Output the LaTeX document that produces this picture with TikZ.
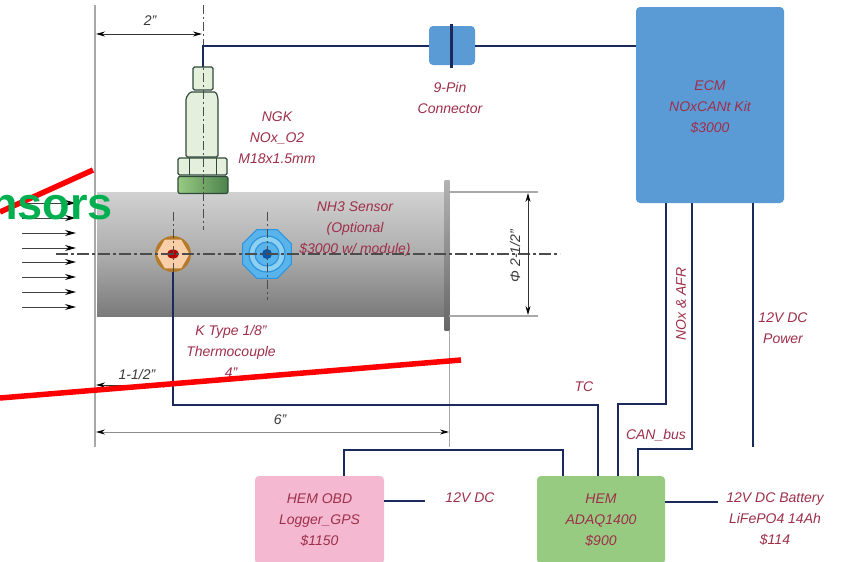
\documentclass[tikz,border=0pt]{standalone}
\usepackage{fontspec}
\setmainfont{Liberation Sans}
\usetikzlibrary{shapes.geometric,arrows.meta}
\definecolor{lbl}{HTML}{9E2F4A}
\definecolor{wire}{HTML}{1B2A5C}
\definecolor{dimc}{HTML}{3A3A3A}
\definecolor{grayl}{HTML}{A8A8A8}
\definecolor{ecmblue}{HTML}{5B9BD5}
\definecolor{obdpink}{HTML}{F4B9D0}
\definecolor{hemgreen}{HTML}{98CB82}
\definecolor{sensfill}{HTML}{E4EFDC}
\definecolor{sensline}{HTML}{2F4A3A}
\definecolor{greentxt}{HTML}{00B050}
\definecolor{tcring}{HTML}{B47A28}
\definecolor{tcfill}{HTML}{F8CFA8}
\definecolor{nhouter}{HTML}{58B4EA}
\definecolor{nhinner}{HTML}{8ED0F2}
\definecolor{nhring}{HTML}{2F94DC}
\definecolor{nhcore}{HTML}{0B55A5}
\tikzset{
  x=1pt,y=-1pt,
  lab/.style={font=\fontsize{14}{21}\selectfont\itshape,text=lbl,align=center,inner sep=0pt},
  dimlab/.style={font=\fontsize{14}{18}\selectfont\itshape,text=dimc,inner sep=0pt},
  box/.style={rounded corners=4pt,inner sep=0pt,minimum height=#1},
  wirel/.style={draw=wire,line width=2.4pt,line join=miter},
  ext/.style={draw=grayl,line width=1.5pt},
  dimline/.style={draw=black!80,line width=1pt,{Stealth[length=9pt,width=5pt,color=black]}-{Stealth[length=9pt,width=5pt,color=black]}},
  flow/.style={draw=black!75,line width=1pt,-{Stealth[length=11pt,width=6pt,color=black]}},
  centre/.style={draw=black!70,line width=1.2pt,dash pattern=on 12pt off 3pt on 3pt off 3pt},
  centret/.style={draw=black!70,line width=.9pt,dash pattern=on 9pt off 3pt on 2pt off 3pt},
  sens/.style={draw=sensline,fill=sensfill,line width=1.2pt,rounded corners=1.5pt},
  redbar/.style={draw=red,line width=5.5pt},
}
\begin{document}
\begin{tikzpicture}
\useasboundingbox[fill=white] (0,0) rectangle (846,562);
% named x positions
\coordinate (xa) at (666,0);\coordinate (xb) at (692,0);\coordinate (xc) at (753,0);
\coordinate (xd) at (618,0);\coordinate (xe) at (638,0);\coordinate (xf) at (598,0);\coordinate (xg) at (563,0);
\coordinate (ya) at (0,404);\coordinate (yb) at (0,449);
% extension lines
\coordinate (ll1) at (95,5);\coordinate (ll2) at (95,447);
\draw[ext] (ll1) -- (ll2);
% pipe
\node[minimum width=348pt,minimum height=124pt,inner sep=0pt,top color=black!18,bottom color=black!52,middle color=black!32] (pipe) at (271,254) {};
\node[minimum width=5pt,minimum height=150pt,inner sep=0pt,top color=black!30,bottom color=black!60] (flange) at (447,255) {};
\coordinate (re1) at (449,330);\coordinate (re2) at (449,447);
\draw[draw=grayl,line width=1pt] (re1) -- (re2);
\coordinate (e1a) at (449,192);\coordinate (e1b) at (538,192);
\coordinate (e2a) at (449,316);\coordinate (e2b) at (538,316);
\draw[ext] (e1a) -- (e1b);\draw[ext] (e2a) -- (e2b);
% sensor
\draw[sens] (193,90) -- (193,67) -- (213,67) -- (213,90) -- cycle;
\draw[sens] (186,157) -- (186,98) -- (190,92) -- (216,92) -- (218,98) -- (218,157) -- cycle;
\draw[sens] (178,175) -- (178,158) -- (227,158) -- (227,175) -- cycle;
\draw[draw=sensline,line width=1pt] (189,158) -- (189,175) (216,158) -- (216,175);
\node[rounded corners=2pt,minimum width=50pt,minimum height=17pt,inner sep=0pt,draw=sensline,line width=1.2pt,left color=hemgreen,right color=green!30!black!70!white] (base) at (203,185) {};
\coordinate (c1) at (203,5);\coordinate (c2) at (203,230);
\draw[centret] (c1) -- (c2);
% holes
\node[circle,minimum size=36pt,inner sep=0pt,fill=tcring] (tc) at (173,254) {};
\node[regular polygon,regular polygon sides=6,minimum size=33pt,inner sep=0pt,fill=tcfill] (tch) at (173,254) {};
\node[ellipse,minimum width=12pt,minimum height=9pt,inner sep=0pt,fill=red!70!black] (tcc) at (173,254) {};
\node[regular polygon,regular polygon sides=8,minimum size=53pt,inner sep=0pt,fill=nhouter,draw=nhring,line width=1pt] (nh) at (267,254) {};
\node[circle,minimum size=36pt,inner sep=0pt,fill=nhinner,draw=nhring,line width=1.2pt] (nhr1) at (267,254) {};
\node[circle,minimum size=24pt,inner sep=0pt,fill=nhouter,draw=nhring,line width=1.2pt] (nhr2) at (267,254) {};
\node[circle,minimum size=10pt,inner sep=0pt,fill=nhcore] (nhc) at (267,254) {};
\coordinate (t1) at (173,212);\coordinate (t2) at (173,275);
\coordinate (n1) at (267,212);\coordinate (n2) at (267,300);
\draw[centret] (t1) -- (t2);\draw[centret] (n1) -- (n2);
\coordinate (m1) at (56,254);\coordinate (m2) at (560,254);
\draw[centre] (m1) -- (m2);
% flow arrows
\foreach \i/\y in {1/203,2/218,3/233,4/248,5/262,6/277,7/292,8/307}{
  \coordinate (fa\i) at (22,\y);\coordinate (fb\i) at (76,\y);
  \draw[flow] (fa\i) -- (fb\i);
}
% boxes
\node[box=196pt,minimum width=148pt,fill=ecmblue,lab] (ecm) at (710,105) {};
\node[lab] (ecmt) at (710,107) {ECM\\NOxCANt Kit\\\$3000};
\node[box=88pt,minimum width=129pt,fill=obdpink,lab] (obd) at (319.5,520) {HEM OBD\\Logger\_GPS\\\$1150};
\node[box=88pt,minimum width=128pt,fill=hemgreen,lab] (hem) at (601,520) {HEM\\ADAQ1400\\\$900};
\node[minimum width=46pt,minimum height=39pt,inner sep=0pt,rounded corners=4pt,fill=ecmblue] (conn) at (452,45.5) {};
\coordinate (cb1) at (451,24);\coordinate (cb2) at (451,68);
% wires
\coordinate (sw) at (203,46);
\draw[wirel] (203,67) -- (sw) -- (conn.west |- sw);
\draw[wirel] (conn.east |- sw) -- (ecm.west |- sw);
\draw[draw=wire,line width=3pt] (cb1) -- (cb2);
\draw[wirel] (ecm.south -| xa) -- (xa |- ya) -- (xd |- ya) -- (hem.north -| xd);
\draw[wirel] (ecm.south -| xb) -- (xb |- yb) -- (xe |- yb) -- (hem.north -| xe);
\coordinate (pe) at (753,447);
\draw[wirel] (ecm.south -| xc) -- (pe);
\coordinate (tcb) at (173,405);
\draw[wirel] (tc.south) -- (tcb) -- (xf |- tcb) -- (hem.north -| xf);
\coordinate (ot) at (344,450);
\draw[wirel] (obd.north -| ot) -- (ot) -- (xg |- ot) -- (hem.north -| xg);
\coordinate (ow) at (425,501);\coordinate (hw) at (718,502);
\draw[wirel] (obd.east |- ow) -- (ow);
\draw[wirel] (hem.east |- hw) -- (hw);
% labels
\node[lab] (l1) at (450,97.5) {9-Pin\\Connector};
\node[lab] (l2) at (277,137.5) {NGK\\NOx\_O2\\M18x1.5mm};
\node[lab] (l3) at (355,229) {NH3 Sensor\\(Optional\\\$3000 w/ module)};
\node[lab] (l4) at (231,351) {K Type 1/8"\\Thermocouple\\4"};
\node[lab] (l5) at (470,498) {12V DC};
\node[lab] (l6) at (775,519.5) {12V DC Battery\\LiFePO4 14Ah\\\$114};
\node[lab] (l7) at (783,328.5) {12V DC\\Power};
\node[lab] (l8) at (584,387) {TC};
\node[lab] (l9) at (656,435) {CAN\_bus};
\node[lab,rotate=90] (l10) at (681,304) {NOx \& AFR};
% dimensions
\coordinate (d1a) at (96,34);\coordinate (d1b) at (202,34);
\draw[dimline] (d1a) -- (d1b);
\node[dimlab] (d1) at (150,21) {2"};
\coordinate (d2a) at (528,193);\coordinate (d2b) at (528,315);
\draw[dimline] (d2a) -- (d2b);
\node[dimlab,rotate=90] (d2) at (515,256) {Φ 2-1/2"};
\coordinate (d3a) at (96,432);\coordinate (d3b) at (449,432);
\draw[dimline,draw=black!45] (d3a) -- (d3b);
\node[dimlab] (d3) at (280,420) {6"};
\coordinate (d4a) at (96,385);\coordinate (d4b) at (172,385);
\draw[dimline] (d4a) -- (d4b);
\node[dimlab] (d4) at (137,374) {1-1/2"};
% overlay
\coordinate (r1a) at (93,170);\coordinate (r1b) at (0,212);
\coordinate (r2a) at (461,360);\coordinate (r2b) at (0,398);
\draw[redbar] (r1a) -- (r1b);
\draw[redbar] (r2a) -- (r2b);
\node[font=\fontsize{45}{45}\selectfont\bfseries,text=greentxt,anchor=base east,inner sep=0pt] (ovl) at (113,219) {nsors};
\end{tikzpicture}
\end{document}
